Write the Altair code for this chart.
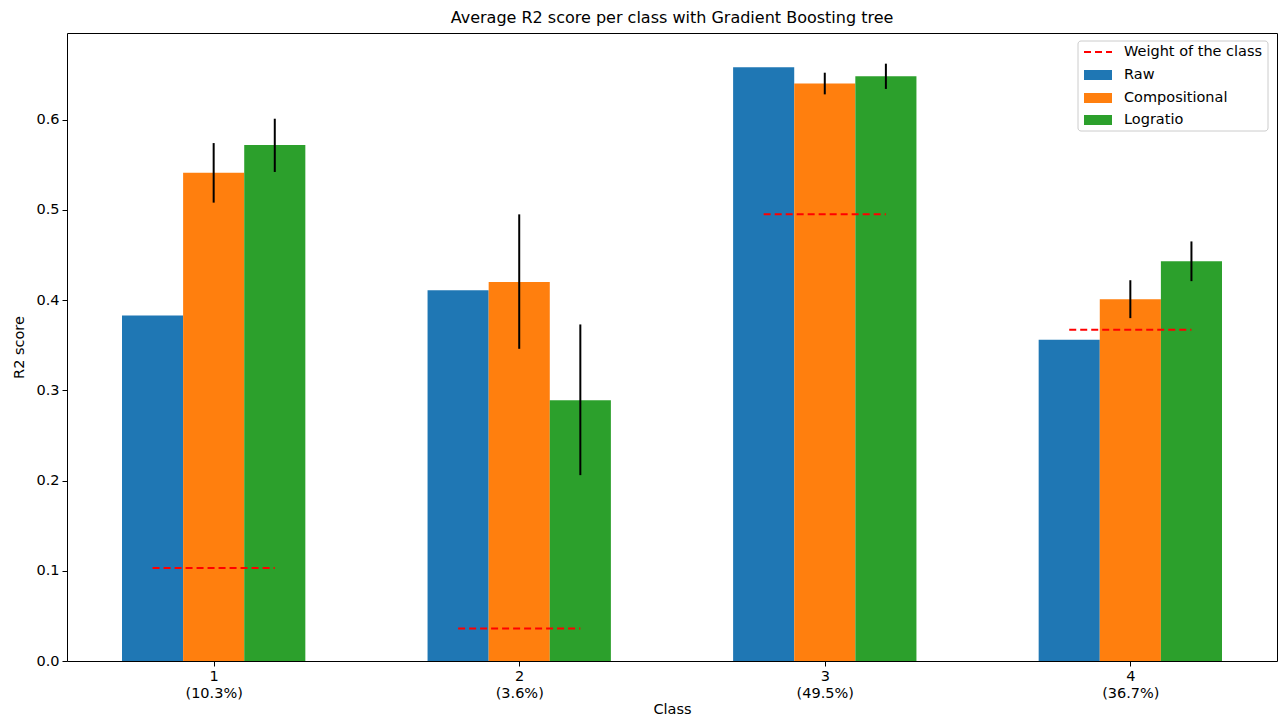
import altair as alt
import pandas as pd

# ---- data ----
classes = [1, 2, 3, 4]
class_pct = ["10.3%", "3.6%", "49.5%", "36.7%"]
class_weight = [0.103, 0.036, 0.495, 0.367]

series = ["Raw", "Compositional", "Logratio"]
series_colors = ["#1f77b4", "#ff7f0e", "#2ca02c"]
series_offset = [-0.2, 0.0, 0.2]

raw_vals = [0.383, 0.411, 0.658, 0.356]
comp_vals = [0.541, 0.420, 0.640, 0.401]
comp_lo = [0.508, 0.346, 0.628, 0.380]
comp_hi = [0.574, 0.495, 0.652, 0.422]
logr_vals = [0.572, 0.289, 0.648, 0.443]
logr_lo = [0.542, 0.206, 0.634, 0.421]
logr_hi = [0.601, 0.373, 0.662, 0.465]

BAR_W = 0.2
W, H = 1210, 628
FONT = "DejaVu Sans"
FS = 14.5

rows = []
for s, off, vals, lo, hi in [
    ("Raw", series_offset[0], raw_vals, None, None),
    ("Compositional", series_offset[1], comp_vals, comp_lo, comp_hi),
    ("Logratio", series_offset[2], logr_vals, logr_lo, logr_hi),
]:
    for i, c in enumerate(classes):
        rows.append({
            "series": s,
            "cls": c,
            "center": c + off,
            "x0": c + off - BAR_W / 2,
            "x1": c + off + BAR_W / 2,
            "value": vals[i],
            "lo": lo[i] if lo else None,
            "hi": hi[i] if hi else None,
        })
bars_df = pd.DataFrame(rows)
err_df = bars_df.dropna(subset=["lo"])
w_df = pd.DataFrame({"cls": classes, "w": class_weight,
                     "x0": [c - 0.2 for c in classes], "x1": [c + 0.2 for c in classes]})

xscale = alt.Scale(domain=[0.52, 4.48], nice=False, zero=False)
yscale = alt.Scale(domain=[0, 0.696], nice=False)

label_map = "{" + ",".join(f"'{c}':'({p})'" for c, p in zip(classes, class_pct)) + "}"
x_axis = alt.Axis(values=classes, title="Class", grid=False,
                  labelExpr=f"[format(datum.value,'d'), {label_map}[format(datum.value,'d')]]",
                  labelLineHeight=17, titlePadding=3)
y_axis = alt.Axis(values=[0, 0.1, 0.2, 0.3, 0.4, 0.5, 0.6], format=".1f", title="R2 score",
                  grid=False, titlePadding=9)

bars = alt.Chart(bars_df).mark_rect().encode(
    x=alt.X("x0:Q", scale=xscale, axis=x_axis),
    x2="x1:Q",
    y=alt.Y("value:Q", scale=yscale, axis=y_axis),
    y2=alt.datum(0),
    color=alt.Color("series:N", scale=alt.Scale(domain=series, range=series_colors), legend=None),
)

errs = alt.Chart(err_df).mark_rule(color="black", strokeWidth=2).encode(
    x=alt.X("center:Q", scale=xscale),
    y=alt.Y("lo:Q", scale=yscale),
    y2="hi:Q",
)

wlines = alt.Chart(w_df).mark_rule(color="#ff0000", strokeWidth=2, strokeDash=[7, 4]).encode(
    x=alt.X("x0:Q", scale=xscale),
    x2="x1:Q",
    y=alt.Y("w:Q", scale=yscale),
)

# ---- manual legend (matplotlib-style box, upper right) ----
bx0, bx1, by0, by1 = W - 199, W - 9, 8, 98
legend_box = alt.Chart(pd.DataFrame({"a": [0]})).mark_rect(
    fill="white", fillOpacity=0.8, stroke="#cccccc", strokeWidth=1, cornerRadius=3
).encode(x=alt.value(bx0), x2=alt.value(bx1), y=alt.value(by0), y2=alt.value(by1))

leg_labels = ["Weight of the class"] + series
row_y = [19, 42, 65, 87]
leg_df = pd.DataFrame({"label": leg_labels, "ry": row_y})
leg_text = alt.Chart(leg_df).mark_text(align="left", baseline="middle", font=FONT,
                                       fontSize=FS, color="black").encode(
    x=alt.value(bx0 + 46), y=alt.Y("ry:Q", scale=None), text="label:N")

sw_df = pd.DataFrame({"series": series, "ry": row_y[1:]})
sw_df["y0"] = sw_df["ry"] - 5
sw_df["y1"] = sw_df["ry"] + 5
leg_sw = alt.Chart(sw_df).mark_rect().encode(
    x=alt.value(bx0 + 6), x2=alt.value(bx0 + 34),
    y=alt.Y("y0:Q", scale=None), y2="y1:Q",
    color=alt.Color("series:N", scale=alt.Scale(domain=series, range=series_colors), legend=None),
)
leg_dash = alt.Chart(pd.DataFrame({"ry": [row_y[0]]})).mark_rule(
    color="#ff0000", strokeWidth=2, strokeDash=[7, 4]
).encode(x=alt.value(bx0 + 6), x2=alt.value(bx0 + 34), y=alt.Y("ry:Q", scale=None))

chart = alt.layer(bars, errs, wlines, legend_box, leg_dash, leg_sw, leg_text).properties(
    width=W, height=H,
    title=alt.TitleParams("Average R2 score per class with Gradient Boosting tree",
                          font=FONT, fontSize=16, fontWeight="normal", color="black", offset=7),
    padding={"left": 3, "top": 2, "right": 2, "bottom": 0},
).configure_view(stroke="black", strokeWidth=1).configure_axis(
    labelFont=FONT, titleFont=FONT, labelFontSize=FS, titleFontSize=FS,
    labelColor="black", titleColor="black", titleFontWeight="normal",
    domain=False, tickColor="black", tickSize=5, tickWidth=1, labelPadding=3,
)

chart.save("out.html", embed_options={"renderer": "svg", "actions": False})
